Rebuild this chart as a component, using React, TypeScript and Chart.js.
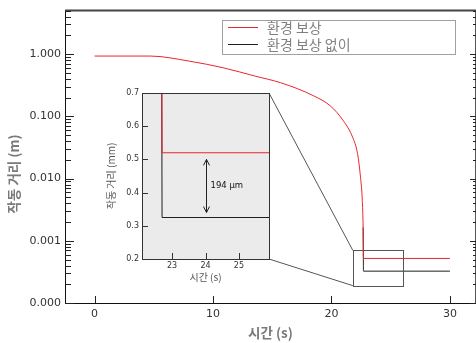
import { useEffect, useRef } from "react";
import { Chart, registerables } from "chart.js";
Chart.register(...registerables);

// ---- data ----
const times = [0, 4.7, 8, 10.9, 13.6, 15.7, 18.5, 19.9, 21.0, 21.8, 22.2, 22.45, 22.6, 22.67, 22.7, 30];
const withCompensation = [0.93, 0.93, 0.77, 0.6, 0.44, 0.347, 0.213, 0.147, 0.0848, 0.0453, 0.0251, 0.0104, 0.00445, 0.00164, 0.00052, 0.00052];
const withoutCompensation = [0.93, 0.93, 0.77, 0.6, 0.44, 0.347, 0.213, 0.147, 0.0848, 0.0453, 0.0251, 0.0104, 0.00445, 0.00164, 0.000325, 0.000325];
const seriesLabels = ["환경 보상", "환경 보상 없이"];
const seriesColors = ["#e8262b", "#1e1e1e"];
const xTicks = [0, 10, 20, 30];
const yMajorTicks = [0.0001, 0.001, 0.01, 0.1, 1];
const yMinorFactors = [2, 3, 4, 5, 6, 7, 8, 9];
const insetXTicks = [23, 24, 25];
const insetYTicks = [0.2, 0.3, 0.4, 0.5, 0.6, 0.7];
const zoomBoxTime = [21.8, 26.0];
const zoomBoxDist = [0.00019, 0.0007];
const gapArrowTime = 24;
const gapArrowMm = [0.5, 0.34];
const gapLabel = "194 µm";
const gapLabelPos = [24.15, 0.42];

const NUM_FONT = "'DejaVu Sans', sans-serif";
const KR_FONT = "'Noto Sans CJK KR', 'Noto Sans', sans-serif";

const px = (v: number) => Math.round(v) + 0.5;

// first index where the two series part ways; before it the black line lies under the red one
const splitIndex = withoutCompensation.findIndex((v, i) => v !== withCompensation[i]);
const hiddenUnderRed = {
  borderColor: (c: any) => (c.p1DataIndex < splitIndex ? "rgba(0,0,0,0)" : undefined),
};

export default function App() {
  const mainRef = useRef<HTMLCanvasElement>(null);
  const insetRef = useRef<HTMLCanvasElement>(null);

  useEffect(() => {
    const mainDecor = {
      id: "mainDecor",
      afterDatasetsDraw(chart: any) {
        const { ctx, chartArea: a, scales } = chart;
        const x = scales.x, y = scales.y;
        ctx.save();
        ctx.lineWidth = 1;
        // zoom box
        ctx.strokeStyle = "#555";
        const bx0 = px(x.getPixelForValue(zoomBoxTime[0]));
        const bx1 = px(x.getPixelForValue(zoomBoxTime[1]));
        const by0 = px(y.getPixelForValue(zoomBoxDist[1]));
        const by1 = px(y.getPixelForValue(zoomBoxDist[0]));
        ctx.strokeRect(bx0, by0, bx1 - bx0, by1 - by0);
        // frame
        ctx.strokeStyle = "#111";
        ctx.beginPath();
        ctx.moveTo(px(a.left), a.top);
        ctx.lineTo(px(a.left), px(a.bottom));
        ctx.lineTo(a.right, px(a.bottom));
        ctx.stroke();
        ctx.strokeStyle = "#444";
        ctx.lineWidth = 2;
        ctx.beginPath();
        ctx.moveTo(a.left, a.top);
        ctx.lineTo(a.right, a.top);
        ctx.stroke();
        ctx.lineWidth = 1;
        ctx.strokeStyle = "#555";
        ctx.beginPath();
        ctx.moveTo(a.right - 0.5, a.top);
        ctx.lineTo(a.right - 0.5, a.bottom);
        ctx.stroke();
        // y ticks (inward), left and right
        ctx.strokeStyle = "#222";
        ctx.beginPath();
        for (const d of yMajorTicks) {
          const yy = px(y.getPixelForValue(d));
          ctx.moveTo(a.left, yy); ctx.lineTo(a.left + 9, yy);
          ctx.moveTo(a.right, yy); ctx.lineTo(a.right - 6, yy);
          for (const f of yMinorFactors) {
            const v = d * f;
            if (v > y.max) continue;
            const ym = px(y.getPixelForValue(v));
            ctx.moveTo(a.left, ym); ctx.lineTo(a.left + 6, ym);
            ctx.moveTo(a.right, ym); ctx.lineTo(a.right - 3, ym);
          }
        }
        for (const t of xTicks) {
          const xx = px(x.getPixelForValue(t));
          ctx.moveTo(xx, a.bottom); ctx.lineTo(xx, a.bottom - 7);
        }
        ctx.stroke();
        // y title
        ctx.save();
        ctx.translate(14, 174);
        ctx.rotate(-Math.PI / 2);
        ctx.font = `bold 13.5px ${KR_FONT}`;
        ctx.fillStyle = "#7a7a7a";
        ctx.textAlign = "center";
        ctx.textBaseline = "middle";
        ctx.fillText("작동 거리 (m)", 0, 0);
        ctx.restore();
        // legend
        const lw = 233, lh = 34;
        const lx = a.right - 21 - lw, ly = a.top + 9;
        ctx.fillStyle = "#fff";
        ctx.fillRect(lx, ly, lw, lh);
        ctx.strokeStyle = "#a0a0a0";
        ctx.strokeRect(px(lx), px(ly), lw, lh);
        ctx.font = `14px ${KR_FONT}`;
        ctx.textAlign = "left";
        ctx.textBaseline = "middle";
        chart.data.datasets.forEach((ds: any, i: number) => {
          const ry = px(ly + 7 + i * 17);
          ctx.strokeStyle = seriesColors[i];
          ctx.beginPath();
          ctx.moveTo(lx + 6, ry); ctx.lineTo(lx + 36, ry);
          ctx.stroke();
          ctx.fillStyle = "#808080";
          ctx.fillText(ds.label, lx + 45, ry);
        });
        ctx.restore();
      },
    };

    const main = new Chart(mainRef.current!, {
      type: "scatter",
      data: {
        datasets: [
          {
            label: seriesLabels[0],
            data: times.map((t, i) => ({ x: t, y: withCompensation[i] })),
            borderColor: seriesColors[0],
            backgroundColor: seriesColors[0],
            borderWidth: 1,
            pointRadius: 0,
            showLine: true,
            cubicInterpolationMode: "monotone",
          },
          {
            label: seriesLabels[1],
            data: times.map((t, i) => ({ x: t, y: withoutCompensation[i] })),
            borderColor: seriesColors[1],
            backgroundColor: seriesColors[1],
            borderWidth: 1,
            pointRadius: 0,
            showLine: true,
            cubicInterpolationMode: "monotone",
            segment: hiddenUnderRed,
          },
        ],
      },
      options: {
        responsive: false,
        animation: false,
        devicePixelRatio: 1,
        layout: { padding: { top: 9, left: 0, right: 0, bottom: 0 } },
        plugins: { legend: { display: false }, tooltip: { enabled: false } },
        scales: {
          x: {
            type: "linear",
            min: -2.5,
            max: 32.2,
            grid: { display: false, drawTicks: false },
            border: { display: false },
            afterBuildTicks: (s: any) => { s.ticks = xTicks.map((v) => ({ value: v })); },
            afterFit: (s: any) => { s.height = 40; },
            ticks: { font: { family: NUM_FONT, size: 11 }, color: "#333", padding: 5, autoSkip: false, maxRotation: 0 },
            title: {
              display: true,
              text: "시간 (s)",
              font: { family: KR_FONT, size: 13.5, weight: "bold" },
              color: "#7a7a7a",
              padding: { top: 0, bottom: 2 },
            },
          },
          y: {
            type: "logarithmic",
            min: 0.0001,
            max: 5,
            grid: { display: false, drawTicks: false },
            border: { display: false },
            afterBuildTicks: (s: any) => { s.ticks = yMajorTicks.map((v) => ({ value: v })); },
            afterFit: (s: any) => { s.width = 65; },
            ticks: {
              font: { family: NUM_FONT, size: 11 },
              color: "#333",
              padding: 4,
              autoSkip: false,
              callback: (v: any) => Number(v).toFixed(3),
            },
          },
        },
      } as any,
      plugins: [mainDecor],
    });

    const insetDecor = {
      id: "insetDecor",
      beforeDatasetsDraw(chart: any) {
        const { ctx, chartArea: a } = chart;
        ctx.save();
        ctx.fillStyle = "#ebebeb";
        ctx.fillRect(a.left, a.top, a.right - a.left, a.bottom - a.top);
        ctx.restore();
      },
      afterDatasetsDraw(chart: any) {
        const { ctx, chartArea: a, scales } = chart;
        const x = scales.x, y = scales.y;
        ctx.save();
        ctx.lineWidth = 1;
        // connectors to zoom box in main chart
        const mx = main.scales.x, my = main.scales.y;
        ctx.strokeStyle = "#555";
        ctx.beginPath();
        ctx.moveTo(a.right, a.top);
        ctx.lineTo(mx.getPixelForValue(zoomBoxTime[0]), my.getPixelForValue(zoomBoxDist[1]));
        ctx.moveTo(a.right, a.bottom);
        ctx.lineTo(mx.getPixelForValue(zoomBoxTime[0]), my.getPixelForValue(zoomBoxDist[0]));
        ctx.stroke();
        // frame
        ctx.strokeStyle = "#333";
        ctx.strokeRect(px(a.left), px(a.top), Math.round(a.right - a.left), Math.round(a.bottom - a.top));
        // ticks inward
        ctx.beginPath();
        for (const v of insetYTicks) {
          const yy = px(y.getPixelForValue(v));
          ctx.moveTo(a.left, yy); ctx.lineTo(a.left + 6, yy);
        }
        for (const v of insetXTicks) {
          const xx = px(x.getPixelForValue(v));
          ctx.moveTo(xx, a.bottom); ctx.lineTo(xx, a.bottom - 6);
        }
        ctx.stroke();
        // double arrow
        const ax = px(x.getPixelForValue(gapArrowTime));
        const ay0 = y.getPixelForValue(gapArrowMm[0]);
        const ay1 = y.getPixelForValue(gapArrowMm[1]);
        ctx.strokeStyle = "#222";
        ctx.beginPath();
        ctx.moveTo(ax, ay0); ctx.lineTo(ax, ay1);
        ctx.moveTo(ax - 3, ay0 + 6); ctx.lineTo(ax, ay0); ctx.lineTo(ax + 3, ay0 + 6);
        ctx.moveTo(ax - 3, ay1 - 6); ctx.lineTo(ax, ay1); ctx.lineTo(ax + 3, ay1 - 6);
        ctx.stroke();
        ctx.font = `8.5px ${NUM_FONT}`;
        ctx.fillStyle = "#111";
        ctx.textAlign = "left";
        ctx.textBaseline = "middle";
        ctx.fillText(gapLabel, x.getPixelForValue(gapLabelPos[0]), y.getPixelForValue(gapLabelPos[1]));
        ctx.restore();
      },
    };

    const inset = new Chart(insetRef.current!, {
      type: "scatter",
      data: {
        datasets: [
          {
            label: seriesLabels[0],
            data: times.map((t, i) => ({ x: t, y: withCompensation[i] * 1000 })),
            borderColor: seriesColors[0],
            borderWidth: 1,
            pointRadius: 0,
            showLine: true,
          },
          {
            label: seriesLabels[1],
            data: times.map((t, i) => ({ x: t, y: withoutCompensation[i] * 1000 })),
            borderColor: seriesColors[1],
            borderWidth: 1,
            pointRadius: 0,
            showLine: true,
          },
        ],
      },
      options: {
        responsive: false,
        animation: false,
        devicePixelRatio: 1,
        layout: { padding: { left: 102, top: 93, right: 207, bottom: 58 } },
        plugins: { legend: { display: false }, tooltip: { enabled: false } },
        scales: {
          x: {
            type: "linear",
            min: 22.1,
            max: 25.9,
            grid: { display: false, drawTicks: false },
            border: { display: false },
            afterBuildTicks: (s: any) => { s.ticks = insetXTicks.map((v) => ({ value: v })); },
            afterFit: (s: any) => { s.height = 26; },
            ticks: { font: { family: NUM_FONT, size: 8 }, color: "#333", padding: 2, autoSkip: false, maxRotation: 0 },
            title: {
              display: true,
              text: "시간 (s)",
              font: { family: KR_FONT, size: 10 },
              color: "#555",
              padding: { top: 0, bottom: 1.5 },
            },
          },
          y: {
            type: "linear",
            min: 0.2,
            max: 0.7,
            grid: { display: false, drawTicks: false },
            border: { display: false },
            afterBuildTicks: (s: any) => { s.ticks = insetYTicks.map((v) => ({ value: v })); },
            afterFit: (s: any) => { s.width = 40; },
            ticks: {
              font: { family: NUM_FONT, size: 8 },
              color: "#333",
              padding: 3,
              autoSkip: false,
              callback: (v: any) => Number(v).toFixed(1),
            },
            title: {
              display: true,
              text: "작동 거리 (mm)",
              font: { family: KR_FONT, size: 10 },
              color: "#555",
              padding: { top: 3, bottom: 0 },
            },
          },
        },
      } as any,
      plugins: [insetDecor],
    });

    return () => {
      inset.destroy();
      main.destroy();
    };
  }, []);

  return (
    <div style={{ position: "absolute", left: 0, top: 0, width: 476, height: 343, background: "#fff", overflow: "hidden" }}>
      <canvas ref={mainRef} width={476} height={343} style={{ position: "absolute", left: 0, top: 0, width: 476, height: 343 }} />
      <canvas ref={insetRef} width={476} height={343} style={{ position: "absolute", left: 0, top: 0, width: 476, height: 343 }} />
    </div>
  );
}
